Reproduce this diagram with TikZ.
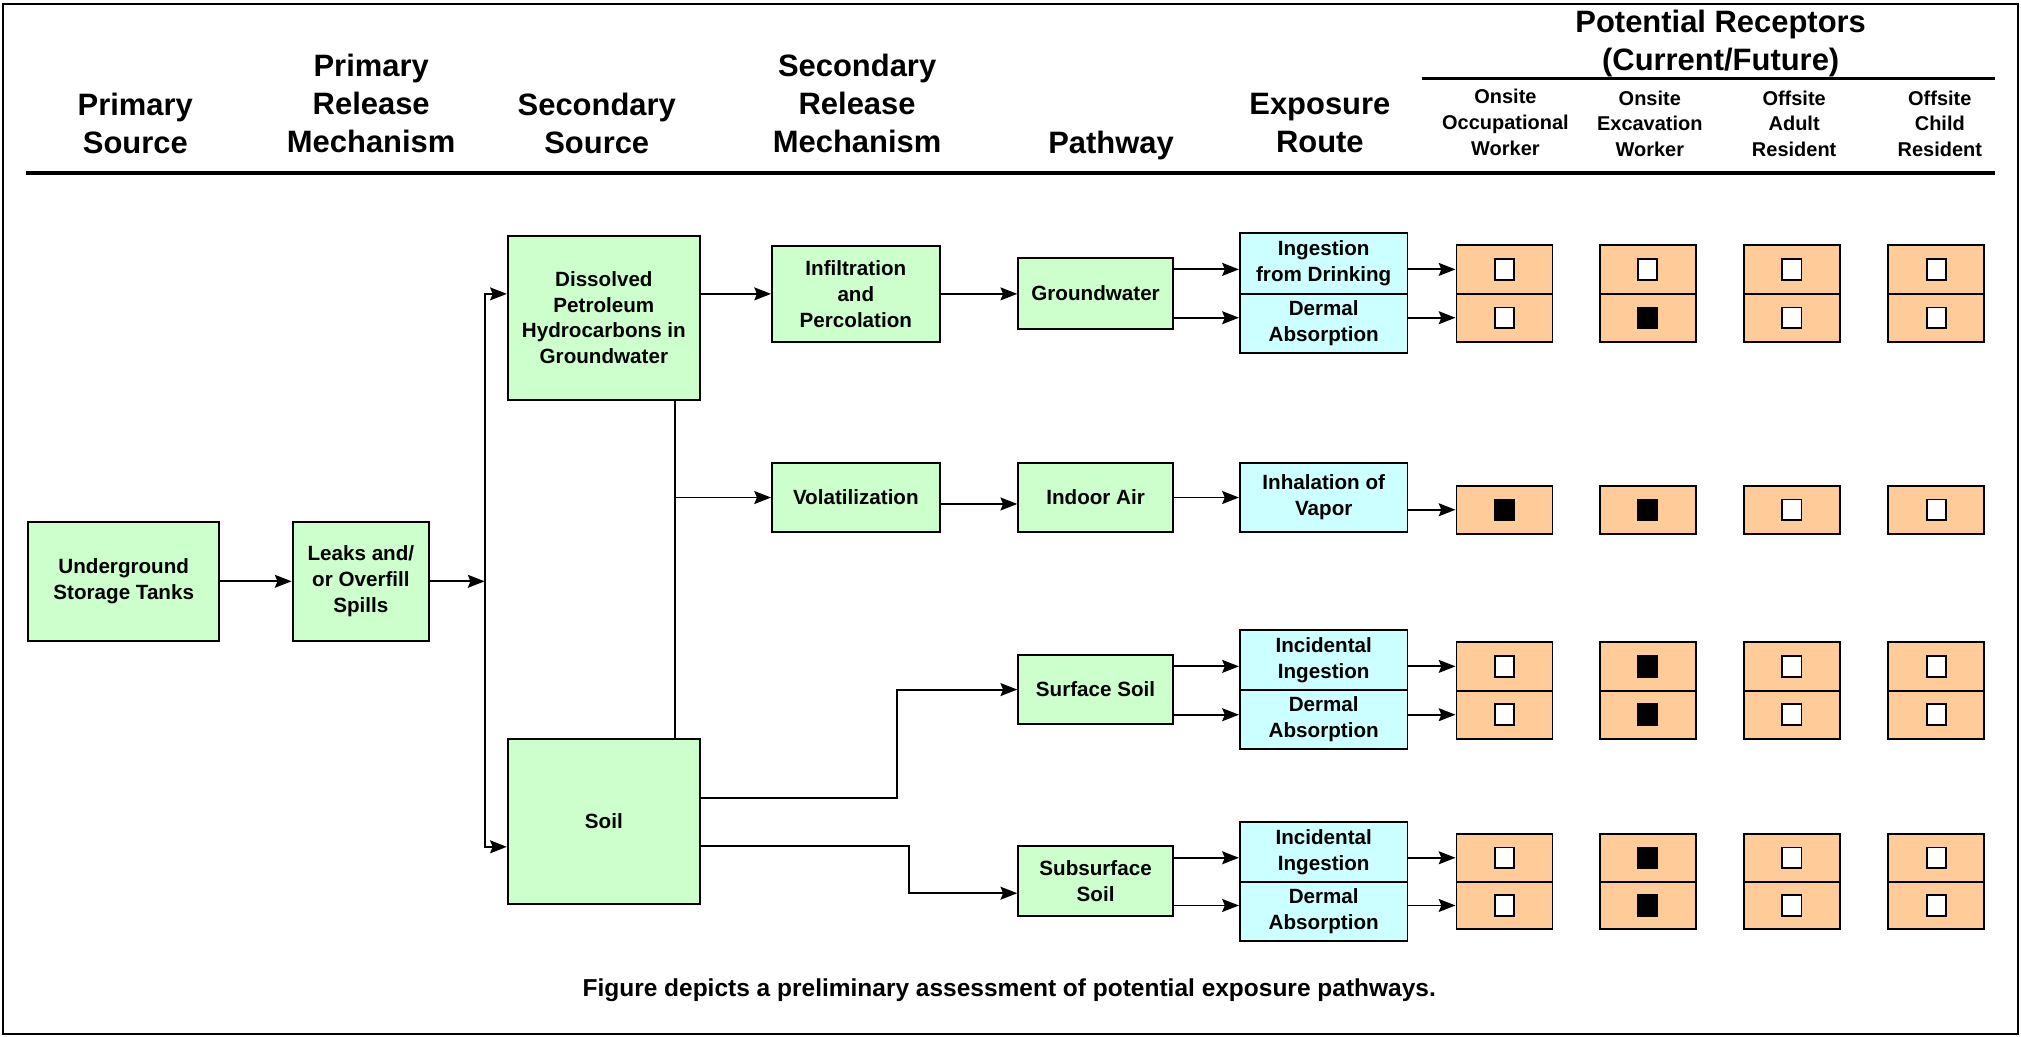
\documentclass[tikz,border=0pt]{standalone}
\usepackage{fontspec}
\setmainfont{Liberation Sans}
\usetikzlibrary{arrows.meta,calc}
\definecolor{grn}{HTML}{CCFFCC}
\definecolor{cyn}{HTML}{CCFFFF}
\definecolor{org}{HTML}{FFCC99}
\tikzset{
 mybox/.style={draw, line width=1.5pt, inner sep=0pt, align=center, font=\fontsize{16}{20}\selectfont\bfseries},
 gbox/.style={mybox, fill=grn},
 cbox/.style={mybox, fill=cyn},
 obox/.style={draw, line width=1.5pt, fill=org, inner sep=0pt},
 arr/.style={line width=1.5pt, -{Stealth[length=13pt,width=10pt,inset=2pt]}},
 ln/.style={line width=1.5pt},
 hd/.style={align=center, font=\fontsize{24}{29.5}\selectfont\bfseries, inner sep=0pt},
 sh/.style={align=center, font=\fontsize{15.5}{20}\selectfont\bfseries, inner sep=0pt},
 chk/.style={draw, line width=1.4pt, minimum width=15pt, minimum height=16pt, inner sep=0pt},
 captxt/.style={font=\fontsize{19}{23}\selectfont\bfseries, inner sep=0pt},
}
\newcommand\mkbox[7]{%
 \pgfmathsetmacro\mkW{#4-#2}\pgfmathsetmacro\mkH{#5-#3}%
 \pgfmathsetmacro\mkX{(#2+#4)/2}\pgfmathsetmacro\mkY{(#3+#5)/2}%
 \node[#6, minimum width=\mkW pt, minimum height=\mkH pt] (#1) at (\mkX,\mkY) {\rule{0pt}{2pt}#7};}
\newcommand\rrow[7]{%
 \pgfmathsetmacro\mkH{#3-#2}\pgfmathsetmacro\mkY{(#2+#3)/2}%
 \foreach \xa/\st [count=\ci] in {1130/#4,1241/#5,1353/#6,1465/#7}{%
   \pgfmathsetmacro\mkX{\xa+37.25}%
   \node[obox, minimum width=74.5pt, minimum height=\mkH pt] (#1\ci) at (\mkX,\mkY) {};
   \node[chk, fill=\st] (#1\ci c) at (#1\ci.center) {};
 }}
\begin{document}
\begin{tikzpicture}[x=1pt,y=-1pt]
\useasboundingbox (0,0) rectangle (1568,804);
\draw[line width=1.5pt] (2,3) rectangle (1566,802);
% headers
\node[hd] (h1) at (105,95.5) {Primary\\Source};
\node[hd] (h2) at (288,80.5) {Primary\\Release\\Mechanism};
\node[hd] (h3) at (463,95.5) {Secondary\\Source};
\node[hd] (h4) at (665,80.5) {Secondary\\Release\\Mechanism};
\node[hd] (h5) at (862,113) {Pathway};
\node[hd] (h6) at (1024,95.5) {Exposure\\Route};
\node[hd] (h7) at (1335,33.5) {Potential Receptors\\(Current/Future)};
\node[sh] (s1) at (1168,95) {Onsite\\Occupational\\Worker};
\node[sh] (s2) at (1280,96) {Onsite\\Excavation\\Worker};
\node[sh] (s3) at (1392,96) {Offsite\\Adult\\Resident};
\node[sh] (s4) at (1505,96) {Offsite\\Child\\Resident};
\draw[line width=2pt] (1103,61) -- (1548,61);
\draw[line width=3pt] (20,134) -- (1548,134);
% boxes
\mkbox{ust}{22}{405}{170}{497}{gbox}{Underground\\Storage Tanks}
\mkbox{leaks}{227}{405}{333}{497}{gbox}{Leaks and/\\or Overfill\\Spills}
\mkbox{dis}{394}{183}{543}{310}{gbox}{Dissolved\\Petroleum\\Hydrocarbons in\\Groundwater}
\mkbox{soil}{394}{573}{543}{701}{gbox}{Soil}
\mkbox{inf}{599}{191}{729}{265}{gbox}{Infiltration\\and\\Percolation}
\mkbox{vol}{599}{359}{729}{413}{gbox}{Volatilization}
\mkbox{gw}{790}{200}{910}{255}{gbox}{Groundwater}
\mkbox{ind}{790}{359}{910}{413}{gbox}{Indoor Air}
\mkbox{ss}{790}{508}{910}{562}{gbox}{Surface Soil}
\mkbox{sub}{790}{656}{910}{711}{gbox}{Subsurface\\Soil}
\mkbox{ea1}{962}{181}{1092}{228}{cbox}{Ingestion\\from Drinking}
\mkbox{ea2}{962}{228}{1092}{274}{cbox}{Dermal\\Absorption}
\mkbox{eb}{962}{359}{1092}{413}{cbox}{Inhalation of\\Vapor}
\mkbox{ec1}{962}{489}{1092}{535}{cbox}{Incidental\\Ingestion}
\mkbox{ec2}{962}{535}{1092}{581}{cbox}{Dermal\\Absorption}
\mkbox{ed1}{962}{638}{1092}{684}{cbox}{Incidental\\Ingestion}
\mkbox{ed2}{962}{684}{1092}{730}{cbox}{Dermal\\Absorption}
% receptors
\rrow{ra}{190}{228}{white}{white}{white}{white}
\rrow{rb}{228}{265}{white}{black}{white}{white}
\rrow{rv}{377}{414}{black}{black}{white}{white}
\rrow{rc}{498}{536}{white}{black}{white}{white}
\rrow{rd}{536}{573}{white}{black}{white}{white}
\rrow{re}{647}{684}{white}{black}{white}{white}
\rrow{rf}{684}{721}{white}{black}{white}{white}
% connectors
\coordinate (busT) at (376,228);
\coordinate (busM) at (376,451);
\coordinate (busB) at (376,657);
\coordinate (vx) at (524,0);
\coordinate (yv) at (0,391);
\coordinate (k1) at (696,619);
\coordinate (k2) at (705,656);
\coordinate (k3) at (705,693);
\draw[arr] (ust) -- (leaks);
\draw[arr] (leaks.east) -- (busM);
\draw[arr] (busM) |- (dis.west |- busT);
\draw[arr] (busM) |- (soil.west |- busB);
\draw[arr] (dis.east |- inf.west) -- (inf.west);
\draw[ln] (dis.south -| vx) -- (soil.north -| vx);
\draw[arr] (vx |- vol.west) -- (vol.west);
\draw[arr] (inf.east) -- (gw.west |- inf.east);
\draw[arr] (vol.east |- yv) -- (ind.west |- yv);
\draw[arr] (ind.east) -- (eb.west);
\draw[arr] (gw.east |- ra1) -- (ea1.west |- ra1);
\draw[arr] (gw.east |- rb1) -- (ea2.west |- rb1);
\draw[arr] (ea1.east |- ra1) -- (ra1.west);
\draw[arr] (ea2.east |- rb1) -- (rb1.west);
\draw[arr] (eb.east |- rv1) -- (rv1.west);
\draw[arr] (soil.east |- k1) -- (k1) |- (ss.west);
\draw[arr] (soil.east |- k2) -- (k2) -- (k3) -- (sub.west |- k3);
\draw[arr] (ss.east |- rc1) -- (ec1.west |- rc1);
\draw[arr] (ss.east |- rd1) -- (ec2.west |- rd1);
\draw[arr] (ec1.east |- rc1) -- (rc1.west);
\draw[arr] (ec2.east |- rd1) -- (rd1.west);
\draw[arr] (sub.east |- re1) -- (ed1.west |- re1);
\draw[arr] (sub.east |- rf1) -- (ed2.west |- rf1);
\draw[arr] (ed1.east |- re1) -- (re1.west);
\draw[arr] (ed2.east |- rf1) -- (rf1.west);
\node[captxt] (caption) at (783,768) {Figure depicts a preliminary assessment of potential exposure pathways.};
\end{tikzpicture}
\end{document}
